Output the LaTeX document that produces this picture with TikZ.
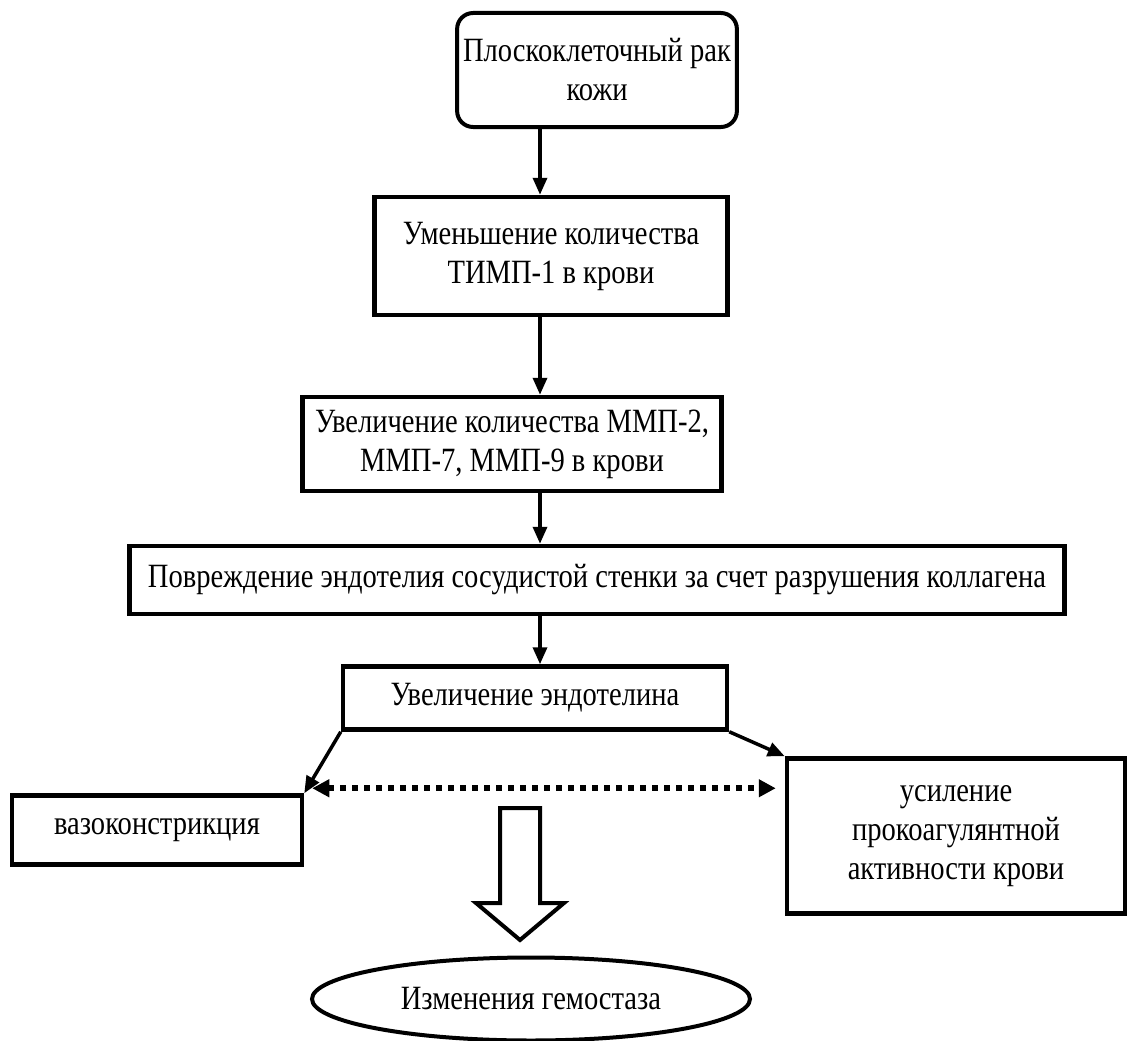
\documentclass[tikz,border=0pt]{standalone}
\usepackage{fontspec}
\setmainfont[FakeStretch=0.84]{Liberation Serif}
\usepackage{tikz}
\usetikzlibrary{shapes.geometric,arrows.meta,positioning}
\tikzstyle{startstop}=[rectangle,rounded corners=16pt,minimum width=248pt,
minimum height=114pt,align=center,draw=black,line width=4pt,inner xsep=6pt]
\tikzstyle{process}=[rectangle,align=center,draw=black,line width=4.5pt,inner sep=0pt]
\tikzstyle{result}=[ellipse,minimum width=438pt,minimum height=83pt,
align=center,draw=black,line width=4pt,inner sep=0pt]
\tikzstyle{arrow}=[line width=3.5pt,-{Triangle[length=17pt,width=14pt]}]
\tikzstyle{dots}=[line width=6pt,dash pattern=on 6pt off 6pt,
{Triangle[length=17pt,width=17pt]}-{Triangle[length=17pt,width=17pt]}]

\begin{document}
\begin{tikzpicture}[x=1pt,y=1pt,node distance=186pt,
    font=\fontsize{34}{39}\selectfont]
    \useasboundingbox (0,0) rectangle (1130,-1041);
        \coordinate (axis) at (540,0);
        \node (start) [startstop] at (597,-70) {Плоскоклеточный рак\\кожи};
        \node (p1) [process,minimum width=353pt,minimum height=118pt,below of=start,xshift=-46pt] {Уменьшение количества\\ТИМП-1 в крови};
        \node (p2) [process,minimum width=419pt,minimum height=94pt,below of=p1,xshift=-39pt,yshift=-2pt] {Увеличение количества ММП-2,\\ММП-7, ММП-9 в крови};
        \node (p3) [process,minimum width=935pt,minimum height=68pt,below of=p2,xshift=85pt,yshift=50pt] {Повреждение эндотелия сосудистой стенки за счет разрушения коллагена};
        \node (p4) [process,minimum width=384pt,minimum height=63pt,below of=p3,xshift=-62pt,yshift=68pt] {Увеличение эндотелина};
        \node (left) [process,minimum width=290pt,minimum height=69pt,below of=p4,xshift=-378pt,yshift=54pt] {вазоконстрикция};
        \node (right) [process,minimum width=338pt,minimum height=155pt,below of=p4,xshift=421pt,yshift=48pt] {усиление\\прокоагулянтной\\активности крови};
        \node (end) [result,below of=p4,xshift=-4pt,yshift=-115pt] {Изменения гемостаза};

        \draw [arrow] (start.south -| axis) -- (p1.north -| axis);
        \draw [arrow] (p1.south -| axis) -- (p2.north -| axis);
        \draw [arrow] (p2.south -| axis) -- (p3.north -| axis);
        \draw [arrow] (p3.south -| axis) -- (p4.north -| axis);
        \draw [arrow] (p4.south west) -- (left.north east);
        \draw [arrow] (p4.south east) -- (right.north west);

        % dotted link between the two effects
        \coordinate (dl) at ([xshift=8pt,yshift=5pt]left.north east);
        \coordinate (dr) at ([xshift=-9pt]dl -| right.west);
        \draw [dots] (dl) -- (dr);

        % hollow arrow down to the result
        \draw [line width=4pt,line join=miter] (500,-808) -- (540,-808) -- (540,-903) -- (564,-903)
            -- (520,-940) -- (476,-903) -- (500,-903) -- cycle;
\end{tikzpicture}
\end{document}
